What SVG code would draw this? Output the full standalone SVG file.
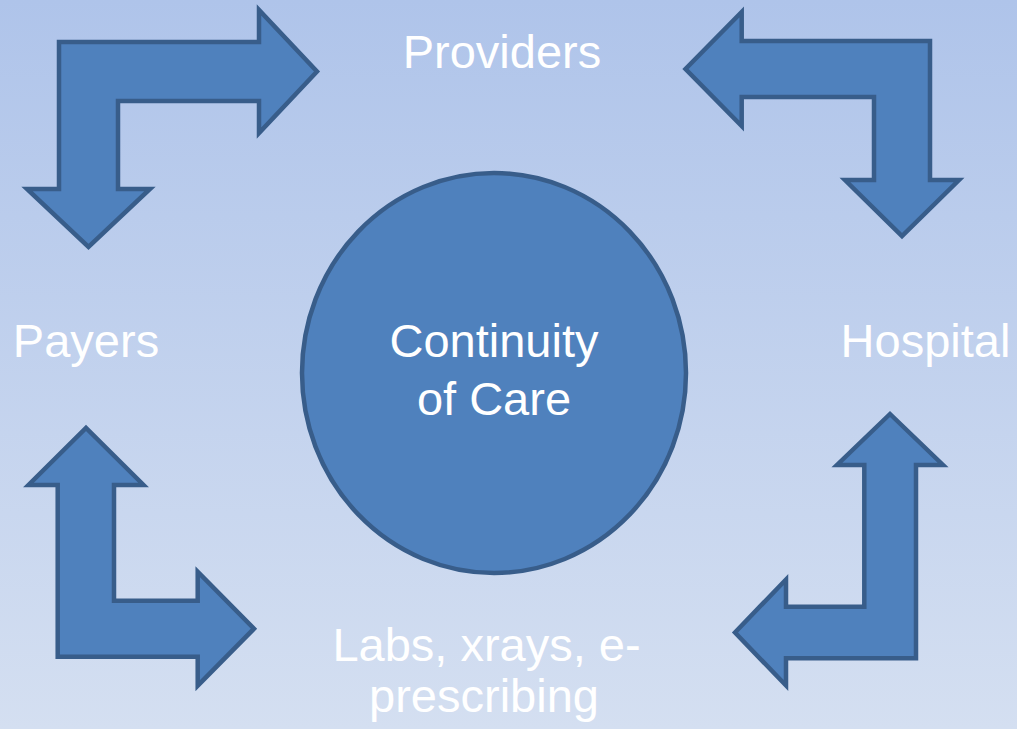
<svg xmlns="http://www.w3.org/2000/svg" width="1017" height="729" viewBox="0 0 1017 729">
<defs>
<linearGradient id="bg" x1="0" y1="0" x2="0" y2="1">
<stop offset="0" stop-color="#afc4ea"/>
<stop offset="1" stop-color="#d4dff1"/>
</linearGradient>
<style>
.shape{fill:#4f81bd;stroke:#385d8a;stroke-width:4.5;stroke-linejoin:miter}
.lbl{font-family:"Liberation Sans",Arial,sans-serif;font-size:47px;fill:#ffffff;text-anchor:middle}
</style>
</defs>
<rect x="0" y="0" width="1017" height="729" fill="url(#bg)"/>
<g id="connectors">
<polygon class="shape" points="59,42 259,42 259,10 317,71.5 259,133 259,101 118,101 118,189 150,189 88.5,247 27,189 59,189"/>
<polygon class="shape" points="930,41 741.7,41 741.7,12 685.5,69 741.7,126 741.7,97 874,97 874,180 845,180 902,236 959,180 930,180"/>
<polygon class="shape" points="57.7,656.7 57.7,485 28.5,485 86,428 143.5,485 114,485 114,600.7 197.7,600.7 197.7,571.7 254,628.7 197.7,685.7 197.7,656.7"/>
<polygon class="shape" points="916,658.3 916,465 943,465 890,414 837,465 864.3,465 864.3,606.7 786,606.7 786,579.5 735,632.5 786,685.5 786,658.3"/>
</g>
<g id="center">
<ellipse class="shape" cx="494" cy="373" rx="192" ry="200" stroke-width="4"/>
<text class="lbl" x="494" y="357">Continuity</text>
<text class="lbl" x="494" y="415">of Care</text>
</g>
<g id="providers"><text class="lbl" x="502" y="68">Providers</text></g>
<g id="payers"><text class="lbl" x="86" y="357">Payers</text></g>
<g id="hospital"><text class="lbl" x="925.5" y="357">Hospital</text></g>
<g id="labs">
<text class="lbl" x="486.5" y="661">Labs, xrays, e-</text>
<text class="lbl" x="484" y="712">prescribing</text>
</g>
</svg>
